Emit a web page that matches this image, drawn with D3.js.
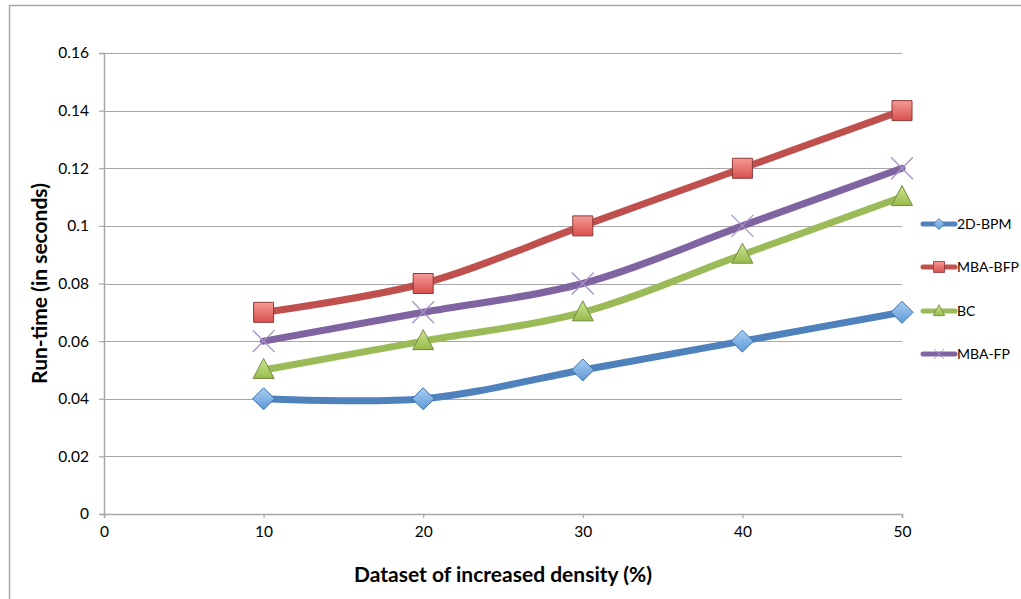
<!DOCTYPE html>
<html>
<head>
<meta charset="utf-8">
<script src="https://cdn.jsdelivr.net/npm/d3@7"></script>
<style>
  body { margin: 0; background: #fff; }
  svg text { font-family: Lato, "Open Sans", sans-serif; fill: #000; }
  .axis-title { font-size: 21px; font-weight: bold; }
  .legend text { font-size: 14px; }
</style>
</head>
<body>
<div id="chart"></div>
<script>
// data
var densities = [10, 20, 30, 40, 50];
var seriesNames = ['2D-BPM', 'MBA-BFP', 'BC', 'MBA-FP'];
var bpm2d = [0.04, 0.04, 0.05, 0.06, 0.07];
var mbaBfp = [0.07, 0.08, 0.10, 0.12, 0.14];
var bc = [0.05, 0.06, 0.07, 0.09, 0.11];
var mbaFp = [0.06, 0.07, 0.08, 0.10, 0.12];
var yTicks = [0, 0.02, 0.04, 0.06, 0.08, 0.1, 0.12, 0.14, 0.16];
var xTicks = [0, 10, 20, 30, 40, 50];

var width = 1021, height = 599;
var margin = {left: 104, right: 119, top: 53, bottom: 85};

var svg = d3.select('#chart').append('svg')
  .attr('width', width)
  .attr('height', height);

// outer frame (only top and left edge visible)
svg.append('path')
  .attr('d', 'M9.5 ' + height + ' L9.5 5.5 L' + width + ' 5.5')
  .attr('fill', 'none')
  .attr('stroke', '#a6a6a6')
  .attr('stroke-width', 1.5);

var x = d3.scaleLinear().domain([0, 50]).range([margin.left, width - margin.right]);
var y = d3.scaleLinear().domain([0, 0.16]).range([height - margin.bottom, margin.top]);

var defs = svg.append('defs');
function grad(id, c1, c2) {
  var g = defs.append('linearGradient').attr('id', id)
    .attr('x1', 0).attr('y1', 0).attr('x2', 0).attr('y2', 1);
  g.append('stop').attr('offset', '0%').attr('stop-color', c1);
  g.append('stop').attr('offset', '100%').attr('stop-color', c2);
}
grad('gBlue', '#a9cdf2', '#5d9ad8');
grad('gRed', '#f59a97', '#d9504c');
grad('gGreen', '#cfe596', '#97bb4a');

// gridlines
svg.append('g').selectAll('line').data(yTicks.slice(1)).enter().append('line')
  .attr('x1', x(0)).attr('x2', x(50))
  .attr('y1', function (d) { return Math.round(y(d)) + 0.5; })
  .attr('y2', function (d) { return Math.round(y(d)) + 0.5; })
  .attr('stroke', '#a6a6a6').attr('stroke-width', 1.2);

var yAxis = svg.append('g')
  .attr('transform', 'translate(' + (x(0)) + ',0)')
  .call(d3.axisLeft(y).tickValues(yTicks).tickSize(5).tickPadding(10)
    .tickFormat(function (d) { return d === 0 ? '0' : String(+d.toFixed(2)); }));
var xAxis = svg.append('g')
  .attr('transform', 'translate(0,' + y(0) + ')')
  .call(d3.axisBottom(x).tickValues(xTicks).tickSize(4).tickPadding(8));
[yAxis, xAxis].forEach(function (a) {
  a.select('.domain').attr('stroke', '#a6a6a6').attr('stroke-width', 1.5);
  a.selectAll('.tick line').attr('stroke', '#a6a6a6').attr('stroke-width', 1.2);
  a.selectAll('.tick text').attr('font-size', null).style('font-size', '15.5px')
    .style('font-family', 'Lato, "Open Sans", sans-serif');
});

svg.append('text').attr('class', 'axis-title')
  .attr('text-anchor', 'middle')
  .attr('transform', 'translate(47,' + ((y(0) + y(0.16)) / 2) + ') rotate(-90)')
  .text('Run-time (in seconds)');
svg.append('text').attr('class', 'axis-title')
  .attr('text-anchor', 'middle')
  .attr('x', (x(0) + x(50)) / 2).attr('y', 582)
  .text('Dataset of increased density (%)');

var series = [
  {name: seriesNames[0], values: bpm2d, color: '#4f81bd', marker: 'diamond', fill: 'url(#gBlue)', stroke: '#3e6fa8'},
  {name: seriesNames[1], values: mbaBfp, color: '#c0504d', marker: 'square', fill: 'url(#gRed)', stroke: '#8c3836'},
  {name: seriesNames[2], values: bc, color: '#9bbb59', marker: 'triangle', fill: 'url(#gGreen)', stroke: '#718c3a'},
  {name: seriesNames[3], values: mbaFp, color: '#8064a2', marker: 'cross', fill: 'none', stroke: '#a592c6'}
];

var line = d3.line()
  .x(function (d, i) { return x(densities[i]); })
  .y(function (d) { return y(d); })
  .curve(d3.curveCatmullRom.alpha(0.5));

function markerPath(type, s) {
  if (type === 'diamond') return 'M0 ' + (-s) + ' L' + s + ' 0 L0 ' + s + ' L' + (-s) + ' 0 Z';
  if (type === 'square') return 'M' + (-s) + ' ' + (-s) + ' H' + s + ' V' + s + ' H' + (-s) + ' Z';
  if (type === 'triangle') return 'M0 ' + (-s * 1.15) + ' L' + (s * 1.05) + ' ' + (s * 0.85) + ' L' + (-s * 1.05) + ' ' + (s * 0.85) + ' Z';
  return 'M' + (-s) + ' ' + (-s) + ' L' + s + ' ' + s + ' M' + s + ' ' + (-s) + ' L' + (-s) + ' ' + s;
}
var markerSize = {diamond: 11, square: 10, triangle: 10, cross: 11};

series.forEach(function (s) {
  svg.append('path')
    .attr('d', line(s.values))
    .attr('fill', 'none')
    .attr('stroke', s.color)
    .attr('stroke-width', 7)
    .attr('stroke-linecap', 'round');
});
series.forEach(function (s) {
  svg.append('g').selectAll('path').data(s.values).enter().append('path')
    .attr('transform', function (d, i) { return 'translate(' + x(densities[i]) + ',' + y(d) + ')'; })
    .attr('d', markerPath(s.marker, markerSize[s.marker]))
    .attr('fill', s.fill)
    .attr('stroke', s.stroke)
    .attr('stroke-width', s.marker === 'cross' ? 1.3 : 1);
});

// legend
var legend = svg.append('g').attr('class', 'legend');
var legendY = [224, 267, 311, 354];
series.forEach(function (s, i) {
  var g = legend.append('g').attr('transform', 'translate(0,' + legendY[i] + ')');
  g.append('line').attr('x1', 923).attr('x2', 955).attr('y1', 0).attr('y2', 0)
    .attr('stroke', s.color).attr('stroke-width', 5).attr('stroke-linecap', 'round');
  g.append('path').attr('transform', 'translate(939,0)')
    .attr('d', markerPath(s.marker, s.marker === 'cross' ? 5 : 5.5))
    .attr('fill', s.fill).attr('stroke', s.stroke).attr('stroke-width', 0.8);
  g.append('text').attr('x', 957).attr('y', 0).attr('dy', '0.35em').text(s.name);
});
</script>
</body>
</html>
